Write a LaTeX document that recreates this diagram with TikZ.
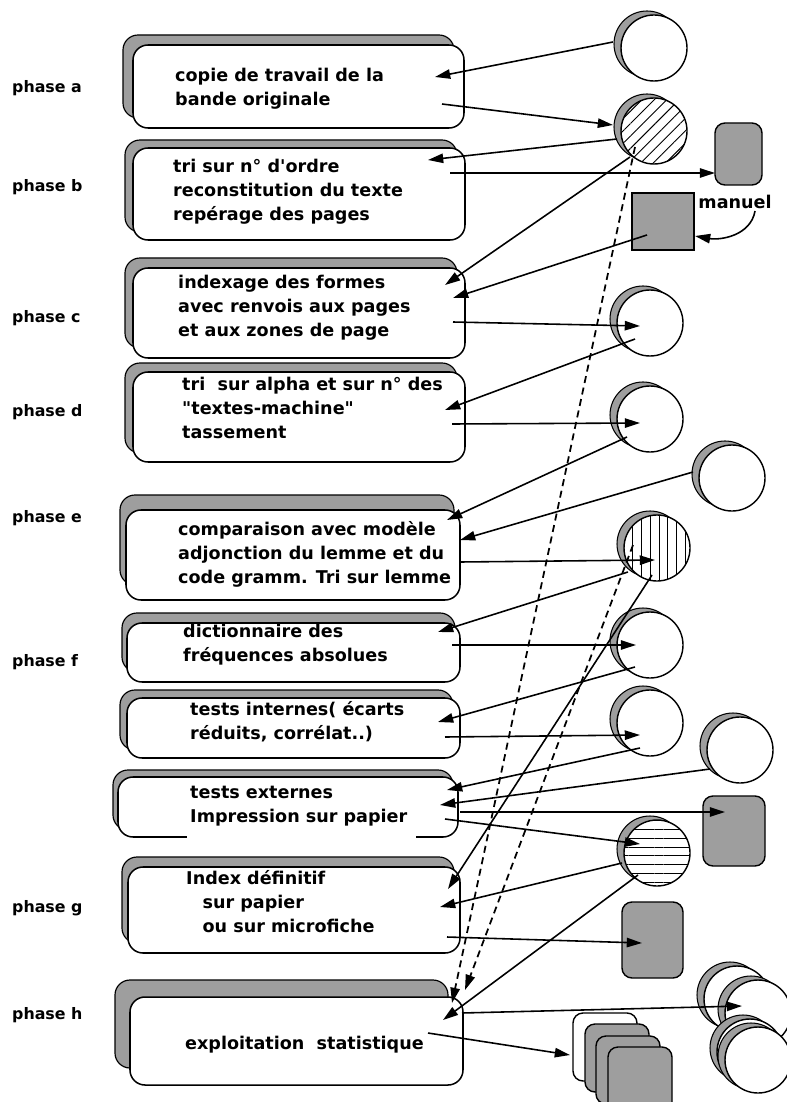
\documentclass[tikz,border=0pt]{standalone}
\usepackage{fontspec}
\setmainfont{DejaVu Sans}
\usetikzlibrary{arrows.meta,calc,patterns.meta}
\newcommand{\dq}{\XeTeXglyph\XeTeXglyphindex "quotedbl" }
\newcommand{\sq}{\XeTeXglyph\XeTeXglyphindex "quotesingle" }

\tikzset{
	procbox/.style 2 args={draw, line width=1.3pt, fill=white, rounded corners=0.45cm,
		inner sep=0, minimum width=#1*0.03cm, minimum height=#2*0.03cm},
	boxshade/.style 2 args={procbox={#1}{#2}, fill=black!38, line width=1pt},
	file/.style={circle, draw, line width=1.2pt, fill=white, minimum size=1.98cm, inner sep=0},
	fileshade/.style={file, fill=black!38, line width=0.9pt},
	card/.style 2 args={draw, line width=1.2pt, fill=black!38, rounded corners=0.3cm,
		inner sep=0, minimum width=#1*0.03cm, minimum height=#2*0.03cm},
	hatch/.style={preaction={fill=white}, pattern={Lines[angle=#1,distance=7.5pt,line width=0.8pt]}},
	flow/.style={line width=1.35pt, -{Triangle[length=13pt,width=8pt]}},
	trace/.style={flow, line width=1.5pt, dash pattern=on 6pt off 4pt},
	phase/.style={font=\fontsize{13.5}{16}\selectfont\bfseries, anchor=west, inner sep=0},
	txt/.style={font=\fontsize{15}{20.5}\selectfont\bfseries, align=left, anchor=west, inner sep=0},
}

\begin{document}
\begin{tikzpicture}[x=0.03cm, y=-0.03cm]
	\useasboundingbox (0,0) rectangle (786,1102);
	% phases
	\node[phase] (PA) at (12,88) {phase a};
	\node[phase] (PB) at (12,187) {phase b};
	\node[phase] (PC) at (12,318) {phase c};
	\node[phase] (PD) at (12,412) {phase d};
	\node[phase] (PE) at (12,518) {phase e};
	\node[phase] (PF) at (12,662) {phase f};
	\node[phase] (PG) at (12,908) {phase g};
	\node[phase] (PH) at (12,1015) {phase h};
	% treatments
	\node[boxshade={331}{83}] at (288.5,76.5) {};
	\node[procbox={331}{83}] (CT) at (298.5,86.5) {};
	\node[boxshade={332}{92}] at (291,186) {};
	\node[procbox={332}{92}] (TN) at (299,194) {};
	\node[boxshade={332}{90}] at (291,303) {};
	\node[procbox={332}{90}] (IF) at (299,313) {};
	\node[boxshade={332}{90}] at (291,408) {};
	\node[procbox={332}{90}] (TA) at (299,417) {};
	\node[boxshade={334}{90}] at (287,540) {};
	\node[procbox={334}{90}] (CM) at (293,555) {};
	\node[boxshade={333}{59}] at (288.5,642.5) {};
	\node[procbox={333}{59}] (DF) at (293.5,652.5) {};
	\node[boxshade={333}{60}] at (286.5,720) {};
	\node[procbox={333}{60}] (TI) at (293.5,728) {};
	\node[boxshade={340}{60}] at (283,800) {};
	\node[procbox={340}{60}] (TE) at (288,807) {};
	\draw[white, line width=2.5pt] ($(TE.south west)+(70,0)$) -- ($(TE.south east)+(-43,0)$);
	\node[boxshade={332}{86}] at (288,900) {};
	\node[procbox={332}{86}] (ID) at (294,910) {};
	\node[boxshade={333}{88}] at (281.5,1024) {};
	\node[procbox={333}{88}] (ES) at (296.5,1041) {};
	% texts
	\node[txt] (tCT) at (175,88.5) {copie de travail de la\\bande originale};
	\node[txt] (tTN) at (173,191.5) {tri sur n° d\sq ordre\\reconstitution du texte\\repérage des pages};
	\node[txt] (tIF) at (178,307.5) {indexage des formes\\avec renvois aux pages\\et aux zones de page};
	\node[txt] (tTA) at (182,408) {tri\ \ sur alpha et sur n° des\\\dq textes-machine\dq\\tassement};
	\node[txt] (tCM) at (178,554) {comparaison avec modèle\\adjonction du lemme et du\\code gramm. Tri sur lemme};
	\node[txt] (tDF) at (183,645) {dictionnaire des\\fréquences absolues};
	\node[txt] (tTI) at (190,721.5) {tests internes( écarts\\réduits, corrélat..)};
	\node[txt] (tTE) at (190,806.5) {tests externes\\Impression sur papier};
	\node[txt] (tID) at (186,902) {Index définitif\\\hspace*{14pt}sur papier\\\hspace*{14pt}ou sur microfiche};
	\node[txt] (tES) at (185,1045) {exploitation\ \ statistique};
	% files
	\node[fileshade] at (647,44) {};
	\node[file] (BO) at (654,48) {};
	\node[fileshade] at (647,127) {};
	\node[file, hatch=45] (W1) at (654,131) {};
	\node[fileshade] at (643,319) {};
	\node[file] (W2) at (650,323) {};
	\node[fileshade] at (643,415) {};
	\node[file] (W3) at (650,419) {};
	\node[fileshade] at (725,474) {};
	\node[file] (MOD) at (732,478) {};
	\node[fileshade] at (650,544) {};
	\node[file, hatch=90] (W4) at (657,548) {};
	\node[fileshade] at (643,641) {};
	\node[file] (W5) at (650,645) {};
	\node[fileshade] at (643,719) {};
	\node[file] (W6) at (650,723) {};
	\node[fileshade] at (733,746) {};
	\node[file] (EXT) at (740,750) {};
	\node[fileshade] at (650,849) {};
	\node[file, hatch=0] (W7) at (657,853) {};
	\node[fileshade] at (730,995) {};
	\node[file] (SD1) at (737,999) {};
	\node[fileshade] at (751,1009) {};
	\node[file] (SD2) at (758,1013) {};
	\node[fileshade] at (743,1048) {};
	\node[file] (SD3) at (750,1052) {};
	\node[fileshade] at (751,1056) {};
	\node[file] (SD4) at (758,1060) {};
	% listings and cards
	\node[card={47}{62}] (LST) at (738.5,154) {};
	\node[card={62}{57}, rounded corners=0pt] (MAN) at (663,221.5) {};
	\node[font=\fontsize{15}{18}\selectfont\bfseries, inner sep=0] (MANL) at (735,202) {manuel};
	\node[card={62}{70}] (PAP) at (734,831) {};
	\node[card={61}{76}] (MIC) at (652.5,940) {};
	\node[card={64}{68}, fill=white] (PR1) at (605,1047) {};
	\node[card={64}{68}] (PR2) at (617,1058) {};
	\node[card={64}{68}] (PR3) at (628,1070) {};
	\node[card={64}{68}] (PR4) at (640,1081) {};
	% flows
	\draw[flow] ($(BO)+(-41,-6)$) -- ($(CT)+(136.5,-9.5)$);
	\draw[flow] ($(CT)+(143.5,17.5)$) -- ($(W1)+(-41,-6)$);
	\draw[flow] ($(W1)+(-37,8)$) -- ($(TN)+(129,-34)$);
	\draw[flow] ($(TN)+(151,-21)$) -- ($(LST)+(-23.5,19)$);
	\draw[flow] ($(W1)+(-24,26)$) -- ($(IF)+(146,-28)$);
	\draw[flow] ($(MAN)+(-16,13.5)$) -- ($(IF)+(154,-15)$);
	\draw[flow] ($(MANL)+(20,9)$) to[out=-100,in=-10] ($(MAN)+(32,14.5)$);
	\draw[flow] ($(IF)+(154,9)$) -- ($(W2)+(-10,3)$);
	\draw[flow] ($(W2)+(-15,16)$) -- ($(TA)+(146,-7)$);
	\draw[flow] ($(TA)+(153,7)$) -- ($(W3)+(-10,4)$);
	\draw[flow] ($(W3)+(-23,18)$) -- ($(CM)+(154,-35)$);
	\draw[flow] ($(MOD)+(-39,-6)$) -- ($(CM)+(167,-15)$);
	\draw[flow] ($(CM)+(167,7)$) -- ($(W4)+(-2,12)$);
	\draw[flow] ($(W4)+(-29,24)$) -- ($(DF)+(144.5,-20.5)$);
	\draw[flow] ($(DF)+(158.5,-7.5)$) -- ($(W5)+(-14,0)$);
	\draw[flow] ($(W5)+(-15,22)$) -- ($(TI)+(144.5,-6)$);
	\draw[flow] ($(TI)+(151.5,9)$) -- ($(W6)+(-10,12)$);
	\draw[flow] ($(W6)+(-10,25)$) -- ($(TE)+(159,-17)$);
	\draw[flow] ($(EXT)+(-30,19)$) -- ($(TE)+(152,-2)$);
	\draw[flow] ($(TE)+(172,5)$) -- ($(PAP)+(-9,-19)$);
	\draw[flow] ($(TE)+(157,12)$) -- ($(W7)+(-17,-9)$);
	\draw[flow] ($(W7)+(-35,10)$) -- ($(ID)+(146,-3)$);
	\draw[flow] ($(ID)+(153,27)$) -- ($(MIC)+(-10.5,3)$);
	\draw[flow] ($(W7)+(-19,22)$) -- ($(ES)+(146.5,-21)$);
	\draw[flow] ($(ES)+(165.5,-28)$) -- ($(SD2)+(-16,-7)$);
	\draw[flow] ($(ES)+(131.5,-8)$) -- ($(PR1)+(-35,8)$);
	\draw[flow] ($(W4)+(-5,27)$) -- ($(ID)+(154,-21)$);
	\draw[trace] ($(W1)+(-19,16)$) -- ($(ES)+(155.5,-38)$);
	\draw[trace] ($(W4)+(-24,-3)$) -- ($(ES)+(168.5,-51)$);
\end{tikzpicture}
\end{document}
